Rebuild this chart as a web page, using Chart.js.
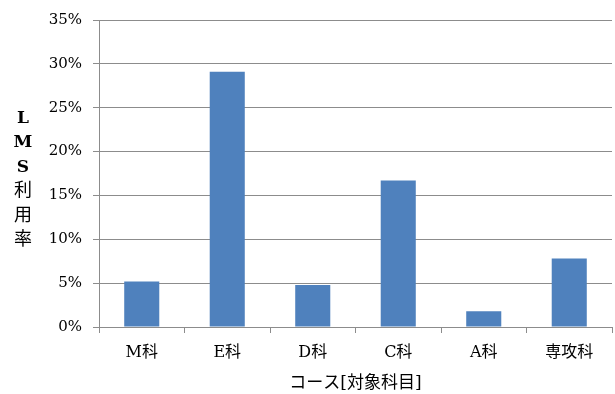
<!DOCTYPE html>
<html>
<head>
<meta charset="utf-8">
<script src="https://cdn.jsdelivr.net/npm/chart.js@4"></script>
<style>
  html, body { margin: 0; padding: 0; background: #fff; }
  #wrap { width: 615px; height: 394px; }
</style>
</head>
<body>
<div id="wrap"><canvas id="lms-chart" width="615" height="394"></canvas></div>
<script>
// Data
const courses = ['M科', 'E科', 'D科', 'C科', 'A科', '専攻科'];
const usageRates = [5.2, 29.1, 4.8, 16.7, 1.8, 7.8]; // percent
const yTitleChars = ['L', 'M', 'S', '利', '用', '率'];

const serif = "'DejaVu Serif', 'Liberation Serif', 'Noto Sans CJK JP', serif";
const gridGray = '#8c8c8c';

// vertical stacked y-axis title (Excel style)
const verticalTitle = {
    id: 'verticalTitle',
    afterDraw(chart) {
        const ctx = chart.ctx;
        const area = chart.chartArea;
        const step = 24.5;
        const mid = (area.top + area.bottom) / 2 + 6;
        const start = mid - step * (yTitleChars.length - 1) / 2;
        ctx.save();
        ctx.fillStyle = '#000';
        ctx.textAlign = 'center';
        ctx.textBaseline = 'middle';
        yTitleChars.forEach((ch, i) => {
            const latin = /[A-Z]/.test(ch);
            ctx.font = (latin ? 'bold 17px ' : '18px ') + serif;
            ctx.fillText(ch, 23, start + i * step);
        });
        ctx.restore();
    }
};

const ctx = document.getElementById('lms-chart').getContext('2d');
new Chart(ctx, {
    type: 'bar',
    data: {
        labels: courses,
        datasets: [{
            data: usageRates,
            backgroundColor: '#4f81bd',
            borderWidth: 0,
            barPercentage: 0.41,
            categoryPercentage: 1.0
        }]
    },
    options: {
        responsive: false,
        animation: false,
        devicePixelRatio: 1,
        layout: { padding: { top: 16, right: 3, left: 0, bottom: 0 } },
        plugins: {
            legend: { display: false },
            tooltip: { enabled: false }
        },
        scales: {
            x: {
                offset: true,
                grid: {
                    offset: true,
                    drawOnChartArea: false,
                    color: gridGray,
                    tickLength: 6
                },
                border: { color: gridGray },
                ticks: {
                    color: '#000',
                    font: { family: serif, size: 16 },
                    padding: 10
                },
                title: {
                    display: true,
                    text: 'コース[対象科目]',
                    color: '#000',
                    font: { family: serif, size: 17 },
                    padding: { top: 2, bottom: 0 }
                },
                afterFit(scale) { scale.height = 67; }
            },
            y: {
                min: 0,
                max: 35,
                ticks: {
                    stepSize: 5,
                    color: '#000',
                    font: { family: serif, size: 15 },
                    padding: 11,
                    callback: (v) => v + '%'
                },
                grid: {
                    color: gridGray,
                    tickLength: 6
                },
                border: { color: gridGray },
                afterFit(scale) { scale.width = 99; }
            }
        }
    },
    plugins: [verticalTitle]
});
</script>
</body>
</html>
